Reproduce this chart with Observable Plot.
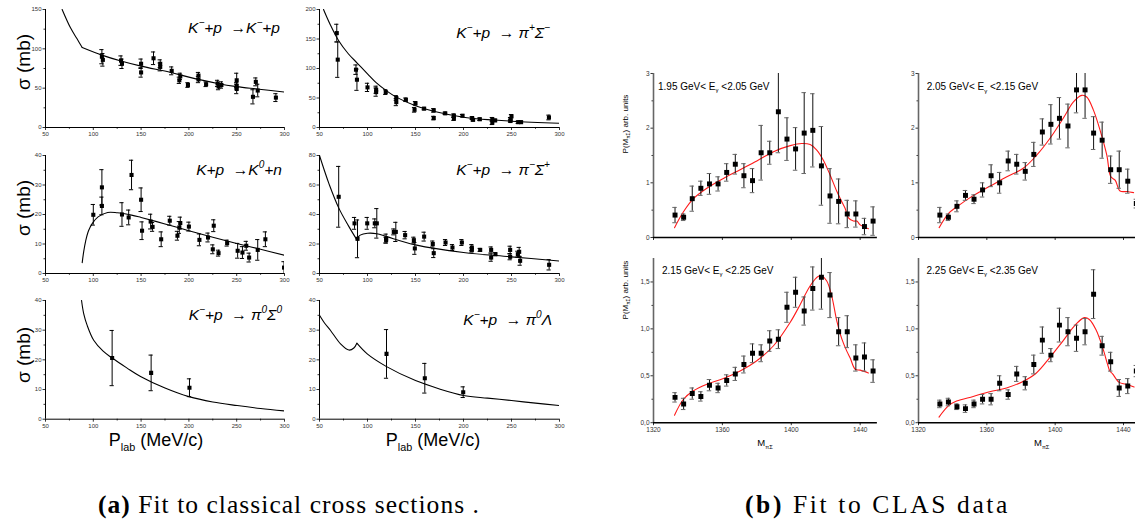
<!DOCTYPE html>
<html><head><meta charset="utf-8">
<script src="https://cdn.jsdelivr.net/npm/d3@7"></script>
<script src="https://cdn.jsdelivr.net/npm/@observablehq/plot@0.6"></script>
<style>
html,body{margin:0;padding:0;overflow:hidden;background:#fff;}
#wrap{position:relative;width:1135px;height:520px;overflow:hidden;font-family:"Liberation Sans",Arial,sans-serif;}
.lab{position:absolute;white-space:nowrap;line-height:1;color:#000;}
.sup{font-size:.65em;position:relative;top:-.7em;}
.sub{font-size:.6em;position:relative;top:.45em;}
#wrap svg{position:absolute;}
</style></head><body><div id="wrap"></div>
<script>
// ---------- tick labels ----------
const plabTicks = [50, 100, 150, 200, 250, 300];
const plabMinor = [75, 125, 175, 225, 275];
const mTicks = [1320, 1360, 1400, 1440];

// ---------- (a) classical cross sections: [Plab, sigma, error] ----------
const kpElastic = [[109,90,9],[110,86,8],[129,85,6],[130,81,6],[150,81,6],[150,70,6],[163,88,8],[170,81,5],[170,77,5],[182,72,5],[190,60,4],[191,65,4],[199,54,3],[210,66,4],[210,61,4],[218,55,3],[230,56,4],[231,52,4],[234,54,4],[250,49,6],[250,60,9],[250,53,4],[267,39,9],[270,58,5],[272,47,8],[291,38,5]];
const kpElasticFit = [[67.4,150],[76,127],[83,112.7],[88.4,101.7],[109,92],[129,84.5],[150,78],[181,70],[200,64],[230,56],[250,52],[271,49],[300,45]];

const kpPiSigmaMinus = [[68,160,15],[69,115,30],[88,98,8],[89,81,18],[100,68,7],[109,64,6],[109,60,7],[119,60,4],[130,50,4],[130,43,6],[140,47,3],[150,41,3],[149,30,4],[159,32,2],[169,29,3],[169,16,3],[181,24,2],[190,20,3],[190,15,3],[199,20,2],[209,16,2],[210,13,2],[217,14,2],[230,14,3],[230,8,3],[233,12,2],[249,14,3],[250,19,3],[249,11,2],[257,9,2],[260,9,2],[289,17,4]];
const kpPiSigmaMinusFit = [[54.2,200],[61,175],[70,147],[80,125],[90,108],[100,91],[109,76],[120,62],[130,51.5],[150,37],[170,27],[200,17.5],[250,10.7],[300,7.3]];

const kpK0n = [[100,19.9,3.5],[109,29.2,6],[109,22.9,3],[130,20,4],[137,19,2.5],[140,33.4,5],[150,25,4],[151,14.5,3],[160,17.6,2.5],[162,15.8,1.5],[171,11.6,2.5],[180,17.9,1.5],[188,12.8,1.5],[190,15.6,2],[191,17.1,2],[200,15.9,1.5],[211,11.4,2],[220,12.2,1.5],[225,8.2,1.5],[226,16.2,2],[231,6.9,1],[240,10.3,1],[251,7.7,2.5],[256,7.1,2],[260,9.4,1.5],[263,5.4,1.5],[272,8,3.5],[280,11.6,2.5],[299.5,2,2]];
const kpK0nFit = [[88.4,3.7],[90,7.5],[92,11],[95,14.5],[99,17],[105,19.2],[115,20.7],[125,20.6],[140,19.8],[150,19],[175,16.8],[200,14.5],[225,12.3],[250,10.2],[275,8.2],[300,6.2]];

const kpPiSigmaPlus = [[70,52,20.6],[86.5,34,4],[89.6,23.5,12.8],[99.7,34,4],[107.6,34,3],[109.7,34,10],[119.4,23.7,3],[119.4,22.6,2],[127.4,28.2,2],[129.5,28.2,6.5],[139.2,26,2.5],[148.3,22.6,2],[149.3,17,4],[159,25,3],[168,20,2],[169,13.8,3],[181.3,21,2],[188.5,17.6,2],[198.3,21,2],[208.7,17.6,2],[208.7,16,1.5],[217.4,16,1],[228.8,16,2],[228.8,10.8,2.5],[233.3,13.1,1],[248.6,16,2.5],[248.6,11.3,2],[256.6,13.1,2],[258,14.7,3],[259,8.6,3],[289.2,5.9,3.5]];
const kpPiSigmaPlusFit = [[50,80],[55,70],[60,60.6],[70,44.5],[80.2,32.3],[88.5,23.3],[92.4,26],[100,27.3],[109.7,27],[120,25],[150,19.4],[200,14.2],[250,11.3],[300,8.4]];

const kpPi0Sigma0 = [[119.7,20.6,9.3],[160.5,15.6,6],[200.6,10.6,3]];
const kpPi0Sigma0Fit = [[87.7,40],[90,35.5],[93.6,31.6],[100.6,26.5],[110,23],[119.7,20.6],[135,17.3],[149.4,14.4],[175,10.5],[200,7.6],[225,5.8],[250.5,4.6],[275,3.6],[300,2.8]];

const kpPi0Lambda = [[119.8,22,8.2],[159.7,13.8,5],[199.7,9.1,1.8]];
const kpPi0LambdaFit = [[50,35],[55,32.5],[61.5,29.9],[71.9,25.4],[80.6,23.3],[85.8,24],[88.9,25.6],[99.7,22],[119.4,17.8],[150,13],[175,10.2],[200,8],[225,7.1],[250,6.3],[275,5.4],[300,4.6]];

// ---------- (b) CLAS data: [M, P, error] ----------
const clas195 = [[1332.5,0.41,0.14],[1337.5,0.37,0.06],[1342.5,0.71,0.23],[1347.5,0.90,0.13],[1352.5,0.98,0.19],[1357.5,0.98,0.13],[1362.5,1.19,0.16],[1367.5,1.34,0.18],[1372.5,1.13,0.22],[1377.5,1.04,0.22],[1382.5,1.55,0.50],[1387.5,1.55,0.21],[1392.5,2.30,0.75],[1397.5,1.80,0.39],[1402.5,1.62,0.39],[1407.5,1.91,0.74],[1412.5,1.96,0.67],[1417.5,1.31,0.72],[1422.5,0.76,0.50],[1427.5,0.66,0.41],[1432.5,0.43,0.25],[1437.5,0.43,0.24],[1442.5,0.20,0.15],[1447.5,0.30,0.26]];
const clas195Fit = [[1332.2,0.18],[1337.4,0.47],[1343.2,0.71],[1351,0.90],[1360.6,1.08],[1370.3,1.24],[1380,1.40],[1389.7,1.57],[1399.4,1.68],[1406.1,1.72],[1411,1.70],[1414.8,1.60],[1418.7,1.41],[1422.6,1.14],[1426.5,0.84],[1429.4,0.65],[1431.3,0.53],[1433.2,0.36],[1436.1,0.30],[1438.1,0.30],[1440,0.23],[1444.8,0.16]];

const clas205 = [[1332.5,0.41,0.14],[1337.5,0.37,0.06],[1342.5,0.57,0.10],[1347.5,0.77,0.09],[1352.5,0.70,0.08],[1357.5,0.87,0.13],[1362.5,1.13,0.20],[1367.5,1.00,0.19],[1372.5,1.40,0.18],[1377.5,1.34,0.18],[1382.5,1.21,0.16],[1387.5,1.52,0.22],[1392.5,1.93,0.24],[1397.5,2.07,0.36],[1402.5,2.18,0.38],[1407.5,2.04,0.40],[1412.5,2.70,0.42],[1417.5,2.70,0.52],[1422.5,1.91,0.30],[1427.5,1.78,0.33],[1432.5,1.24,0.25],[1437.5,1.24,0.34],[1442.5,1.03,0.22],[1447.5,0.62,0.08]];
const clas205Fit = [[1332.1,0.18],[1337.6,0.44],[1342.4,0.56],[1352.2,0.77],[1361.9,0.94],[1371.7,1.11],[1381.5,1.27],[1389.3,1.51],[1397.1,1.82],[1404.9,2.19],[1410.7,2.48],[1415.6,2.60],[1418.5,2.57],[1422.4,2.33],[1426.3,1.96],[1430.2,1.51],[1432.6,1.11],[1435.1,1.05],[1438,0.85],[1442,0.84],[1445.9,0.82]];

const clas215 = [[1332.5,0.27,0.05],[1337.5,0.20,0.06],[1342.5,0.31,0.06],[1347.5,0.28,0.05],[1352.5,0.40,0.06],[1357.5,0.37,0.05],[1362.5,0.45,0.06],[1367.5,0.52,0.07],[1372.5,0.62,0.09],[1377.5,0.74,0.10],[1382.5,0.74,0.09],[1387.5,0.87,0.11],[1392.5,0.89,0.10],[1397.5,1.23,0.16],[1402.5,1.39,0.16],[1407.5,1.19,0.15],[1412.5,1.43,0.23],[1417.5,1.55,0.34],[1422.5,1.36,0.24],[1427.5,0.97,0.15],[1432.5,0.97,0.17],[1437.5,0.69,0.14],[1442.5,0.70,0.15],[1447.5,0.55,0.12]];
const clas215Fit = [[1332.2,0.08],[1337.4,0.25],[1343.2,0.34],[1351,0.41],[1360.6,0.47],[1370.3,0.55],[1380,0.66],[1389.7,0.82],[1399.4,1.07],[1405.2,1.26],[1411,1.46],[1415.8,1.56],[1417.8,1.56],[1420.6,1.51],[1423.5,1.35],[1426.5,1.08],[1429.4,0.89],[1432.3,0.76],[1434.2,0.69],[1437.1,0.57],[1440,0.56],[1444.8,0.53]];

const clas225 = [[1332.5,0.20,0.04],[1337.5,0.22,0.04],[1342.5,0.17,0.03],[1347.5,0.15,0.04],[1352.5,0.20,0.04],[1357.5,0.25,0.05],[1362.5,0.25,0.06],[1367.5,0.42,0.08],[1372.5,0.30,0.05],[1377.5,0.52,0.08],[1382.5,0.42,0.07],[1387.5,0.62,0.10],[1392.5,0.88,0.14],[1397.5,0.72,0.07],[1402.5,1.04,0.18],[1407.5,0.97,0.15],[1412.5,0.90,0.14],[1417.5,0.97,0.14],[1422.5,1.37,0.26],[1427.5,0.82,0.10],[1432.5,0.65,0.10],[1437.5,0.37,0.09],[1442.5,0.39,0.08],[1447.5,0.55,0.06]];
const clas225Fit = [[1332,0.06],[1337.5,0.18],[1342.3,0.23],[1352,0.28],[1361.7,0.33],[1371.5,0.37],[1381.2,0.44],[1389,0.53],[1396.7,0.69],[1404.5,0.87],[1412.2,1.05],[1417.1,1.12],[1420,1.10],[1423.9,0.99],[1427.8,0.80],[1430.7,0.62],[1432,0.55],[1433.6,0.52],[1437.5,0.43],[1441.4,0.41],[1446.2,0.38]];

// ---------- drawing ----------
const wrap = document.getElementById("wrap");
const FONT = "'Liberation Sans', Arial, sans-serif";

function panel(c) {
  const mL = 36, mR = 4, mT = 6, mB = 16;
  const width = c.fx1 - c.fx0 + mL + mR, height = c.fy1 - c.fy0 + mT + mB;
  const pts = c.points.map(([x, y, e]) => ({x, y, e}));
  const fit = [];
  c.fit.forEach(([x, y]) => {
    if (c.kink == null || x <= c.kink) fit.push({x, y, s: 0});
    if (c.kink != null && x >= c.kink) fit.push({x, y, s: 1});
  });
  const svg = Plot.plot({
    width, height, marginLeft: mL, marginRight: mR, marginTop: mT, marginBottom: mB,
    x: {domain: c.xDomain, label: null},
    y: {domain: c.yDomain, label: null},
    style: {background: "transparent", overflow: "visible", maxWidth: "none", fontFamily: FONT},
    marks: [
      Plot.axisX({ticks: c.xTicks, tickSize: 3, tickPadding: 1.5, fontSize: c.fs, tickFormat: c.xFmt, label: null, color: "#333"}),
      c.xMinor ? Plot.axisX({ticks: c.xMinor, tickSize: 1.8, tickFormat: () => "", label: null, color: "#333"}) : null,
      Plot.axisY({ticks: c.yTicks, tickSize: 2.5, tickPadding: 1.5, fontSize: c.fs, tickFormat: c.yFmt, label: null, color: "#333"}),
      Plot.axisY({ticks: c.yMinor, tickSize: 1.5, tickFormat: () => "", label: null, color: "#333"}),
      Plot.ruleX([c.xDomain[0]], {stroke: c.yAxisColor, strokeWidth: c.axisW}),
      Plot.ruleY([c.yDomain[0]], {stroke: "#000", strokeWidth: c.axisW}),
      Plot.line(fit, {x: "x", y: "y", z: "s", curve: "catmull-rom", stroke: c.lineColor, strokeWidth: c.lineW, clip: true}),
      Plot.ruleX(pts, {x: "x", y1: d => d.y - d.e, y2: d => d.y + d.e, stroke: c.barColor, strokeWidth: 1, clip: true}),
      Plot.ruleY(pts, {y: d => d.y + d.e, x1: d => d.x - c.capW, x2: d => d.x + c.capW, stroke: c.capColor, strokeWidth: 1, clip: true}),
      Plot.ruleY(pts, {y: d => d.y - d.e, x1: d => d.x - c.capW, x2: d => d.x + c.capW, stroke: c.capColor, strokeWidth: 1, clip: true}),
      Plot.dot(pts, {x: "x", y: "y", symbol: "square", r: c.sq, fill: "#000", clip: true})
    ]
  });
  svg.style.left = (c.fx0 - mL) + "px";
  svg.style.top = (c.fy0 - mT) + "px";
  wrap.appendChild(svg);
}

const leftBase = {xDomain: [50, 300], xTicks: plabTicks, xMinor: plabMinor, xFmt: d => String(d), yFmt: d => String(d),
  fs: 6, sq: 2.3, capW: 2.2, lineColor: "#000", lineW: 1.1, barColor: "#000", capColor: "#000", yAxisColor: "#000", axisW: 1};
panel({...leftBase, fx0: 45, fx1: 284, fy0: 9, fy1: 127, yDomain: [0, 150], yTicks: [0,50,100,150], yMinor: [25,75,125], points: kpElastic, fit: kpElasticFit, kink: 88.4});
panel({...leftBase, fx0: 319, fx1: 559, fy0: 9, fy1: 127, yDomain: [0, 200], yTicks: [0,50,100,150,200], yMinor: [25,75,125,175], points: kpPiSigmaMinus, fit: kpPiSigmaMinusFit});
panel({...leftBase, fx0: 45, fx1: 284, fy0: 154.7, fy1: 272.7, yDomain: [0, 40], yTicks: [0,10,20,30,40], yMinor: [5,15,25,35], points: kpK0n, fit: kpK0nFit});
panel({...leftBase, fx0: 319, fx1: 559, fy0: 154.7, fy1: 272.7, yDomain: [0, 80], yTicks: [0,20,40,60,80], yMinor: [10,30,50,70], points: kpPiSigmaPlus, fit: kpPiSigmaPlusFit, kink: 88.5});
panel({...leftBase, fx0: 45, fx1: 284, fy0: 300, fy1: 418.7, yDomain: [0, 40], yTicks: [0,10,20,30,40], yMinor: [5,15,25,35], points: kpPi0Sigma0, fit: kpPi0Sigma0Fit});
panel({...leftBase, fx0: 319, fx1: 559, fy0: 300, fy1: 418.7, yDomain: [0, 40], yTicks: [0,10,20,30,40], yMinor: [5,15,25,35], points: kpPi0Lambda, fit: kpPi0LambdaFit, kink: 88.9});

const rightBase = {xDomain: [1320, 1450], xTicks: mTicks, fs: 6.5, sq: 2.8, capW: 1.3, lineColor: "#ff1a1a", lineW: 1.1,
  barColor: "#111", capColor: "#666", yAxisColor: "#666", axisW: 1.6};
const comma = d => d.toFixed(1).replace(".", ",");
panel({...rightBase, fx0: 653.3, fx1: 877.2, fy0: 73.3, fy1: 237.3, yDomain: [0, 3], yTicks: [0,1,2,3], yMinor: [0.5,1.5,2.5], xFmt: () => "", yFmt: d => String(d), points: clas195, fit: clas195Fit});
panel({...rightBase, fx0: 918.3, fx1: 1140.4, fy0: 73.3, fy1: 237.3, yDomain: [0, 3], yTicks: [0,1,2,3], yMinor: [0.5,1.5,2.5], xFmt: () => "", yFmt: d => String(d), points: clas205, fit: clas205Fit});
panel({...rightBase, fx0: 653.3, fx1: 877.2, fy0: 257.5, fy1: 421.7, yDomain: [0, 1.75], yTicks: [0,0.5,1,1.5], yMinor: [0.25,0.75,1.25], xFmt: d => String(d), yFmt: comma, points: clas215, fit: clas215Fit});
panel({...rightBase, fx0: 918.3, fx1: 1140.4, fy0: 257.5, fy1: 421.7, yDomain: [0, 1.75], yTicks: [0,0.5,1,1.5], yMinor: [0.25,0.75,1.25], xFmt: d => String(d), yFmt: comma, points: clas225, fit: clas225Fit});

// ---------- text ----------
function label(html, x, y, o = {}) {
  const d = document.createElement("div");
  d.className = "lab";
  d.innerHTML = html;
  d.style.fontSize = (o.size || 10) + "px";
  if (o.family) d.style.fontFamily = o.family;
  if (o.italic) d.style.fontStyle = "italic";
  d.style.left = x + "px";
  d.style.top = y + "px";
  const tx = o.anchor === "end" ? "-100%" : o.anchor === "middle" ? "-50%" : "0";
  d.style.transform = `translate(${tx},-50%)` + (o.rotate ? ` rotate(${o.rotate}deg)` : "");
  wrap.appendChild(d);
  if (o.fitWidth) {
    const w = d.getBoundingClientRect().width;
    const n = d.textContent.length;
    d.style.letterSpacing = Math.max(0, (o.fitWidth - w) / n) + "px";
  }
  return d;
}
const sup = s => `<span class="sup">${s}</span>`;
const sub = s => `<span class="sub">${s}</span>`;

const reactions = [
  [`K${sup("−")}+p&nbsp;&nbsp;→K${sup("−")}+p`, 280, 28.3],
  [`K${sup("−")}+p&nbsp;&nbsp;→ π${sup("+")}Σ${sup("−")}`, 550, 33],
  [`K+p&nbsp;&nbsp;→K${sup("0")}+n`, 282, 170],
  [`K${sup("−")}+p&nbsp;&nbsp;→ π${sup("−")}Σ${sup("+")}`, 550, 170],
  [`K${sup("−")}+p&nbsp;&nbsp;→ π${sup("0")}Σ${sup("0")}`, 282, 315],
  [`K${sup("−")}+p&nbsp;&nbsp;→ π${sup("0")}Λ`, 552, 320]
];
reactions.forEach(([t, x, y]) => label(t, x, y, {size: 15.5, italic: true, anchor: "end"}));

[61.7, 207.5, 355].forEach(y => label("σ (mb)", 23, y, {size: 19, anchor: "middle", rotate: -90}));
[156, 433].forEach(x => label(`P${sub("lab")} (MeV/c)`, x, 440, {size: 18, anchor: "middle"}));

const energyBins = ["1.95 GeV&lt; E" + sub("γ") + " &lt;2.05 GeV", "2.05 GeV&lt; E" + sub("γ") + " &lt;2.15 GeV",
                    "2.15 GeV&lt; E" + sub("γ") + " &lt;2.25 GeV", "2.25 GeV&lt; E" + sub("γ") + " &lt;2.35 GeV"];
label(energyBins[0], 658, 86.7, {size: 10});
label(energyBins[1], 926.7, 87.3, {size: 10});
label(energyBins[2], 662, 270.5, {size: 10});
label(energyBins[3], 926.5, 270.5, {size: 10});

[124, 290].forEach(y => label(`P(M${sub("πΣ")}) arb. units`, 625.7, y, {size: 8, anchor: "middle", rotate: -90}));
[765, 1041.7].forEach(x => label(`M${sub("πΣ")}`, x, 443, {size: 9.5, anchor: "middle"}));

const SERIF = "'Liberation Serif', 'Times New Roman', serif";
label("<b>(a)</b> Fit to classical cross sections .", 98, 505, {size: 25.5, family: SERIF, fitWidth: 382});
label("<b>(b)</b> Fit to CLAS data", 745, 505, {size: 25.5, family: SERIF, fitWidth: 265});
</script></body></html>
